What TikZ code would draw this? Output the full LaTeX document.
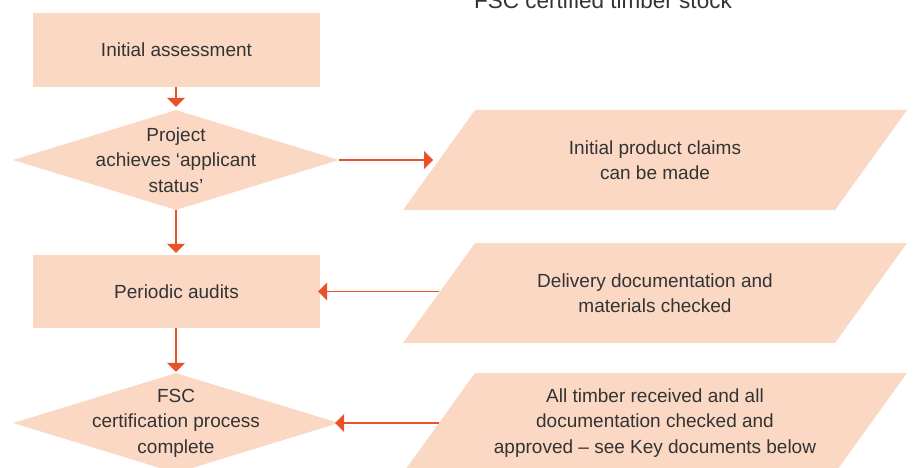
\documentclass[tikz,border=0pt]{standalone}
\usepackage{fontspec}
\setmainfont{Liberation Sans}
\usetikzlibrary{shapes.geometric,arrows.meta}
\definecolor{peach}{HTML}{FBD8C4}
\definecolor{arrowred}{HTML}{EA5129}
\definecolor{txtgray}{HTML}{333333}
\begin{document}
\begin{tikzpicture}[x=1pt,y=-1pt,
  box/.style={rectangle,fill=peach,draw=none,minimum width=287pt,inner sep=0pt},
  dia/.style={diamond,fill=peach,draw=none,minimum width=326pt,minimum height=100pt,inner sep=0pt},
  parafill/.style={fill=peach,draw=none},
  lbl/.style={text=txtgray,font=\fontsize{19}{25.5}\selectfont,align=center,inner sep=0pt},
  arr/.style={draw=arrowred,line width=1.2pt,-{Triangle[width=18pt,length=9pt]}}
]
\useasboundingbox (0,0) rectangle (915,468);
% title
\node[lbl,font=\fontsize{22.5}{26}\selectfont,anchor=base] (title) at (603,9) {FSC certified timber stock};
% left column
\node[box,minimum height=74pt] (a1) at (176.5,50) {};
\node[lbl] (t1) at (a1) {Initial assessment};
\node[dia] (d1) at (176,160) {};
\node[lbl] (t2) at (d1) {Project\\achieves ‘applicant\\status’};
\node[box,minimum height=73pt] (a2) at (176.5,291.5) {};
\node[lbl] (t3) at (a2) {Periodic audits};
\node[dia] (d2) at (176,423) {};
\node[lbl] (t4) at (d2) {FSC\\certification process\\complete};
% right column: parallelograms (width 504, height 100, slant 72)
\foreach \cy in {160,293,423}{
  \fill[parafill] (403,\cy+50) -- (475,\cy-50) -- (907,\cy-50) -- (835,\cy+50) -- cycle;
}
\node[lbl] (u1) at (655,160) {Initial product claims\\can be made};
\node[lbl] (u2) at (655,293) {Delivery documentation and\\materials checked};
\node[lbl] (u3) at (655,423) {All timber received and all\\documentation checked and\\approved – see Key documents below};
\coordinate (p1l) at (439,160);
\coordinate (p2l) at (439,291.5);
\coordinate (p3l) at (439,423);
% connectors
\draw[arr,shorten >=3pt] (a1.south -| d1.north) -- (d1.north);
\draw[arr,shorten >=2pt] (d1.south) -- (a2.north -| d1.south);
\draw[arr,shorten >=1pt] (a2.south -| d2.north) -- (d2.north);
\draw[arr,shorten >=6pt] (d1.east) -- (p1l);
\draw[arr,shorten >=-2pt] (p2l) -- (a2.east |- p2l);
\draw[arr,shorten >=-4pt] (p3l) -- (d2.east);
\end{tikzpicture}
\end{document}
